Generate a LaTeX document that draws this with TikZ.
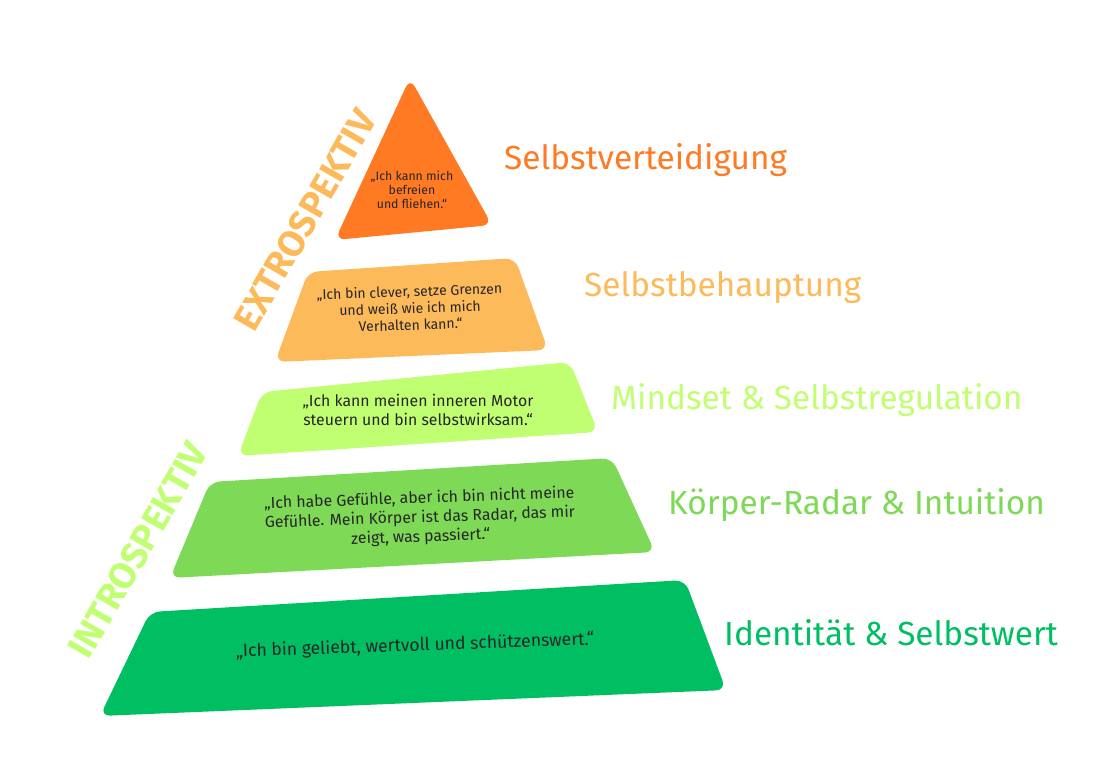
\documentclass[tikz,border=0pt]{standalone}
\usepackage{fontspec}
\setmainfont{Fira Sans}
\definecolor{orangeTop}{HTML}{FF7A22}
\definecolor{peach}{HTML}{FDBA5A}
\definecolor{lime}{HTML}{C1FF72}
\definecolor{midgreen}{HTML}{7ED957}
\definecolor{deepgreen}{HTML}{00BF63}
\tikzset{
  layer/.style={rounded corners=2mm},
  quote/.style={align=center, text=black!85, font=\small},
  title/.style={anchor=west, font=\fontsize{19}{19}\selectfont},
  side/.style={font=\fontsize{21}{21}\selectfont\bfseries}
}
\begin{document}
\begin{tikzpicture}[x=0.02cm,y=-0.02cm]
  \useasboundingbox (0,0) rectangle (1100,770);
  % pyramid layers
  \fill[layer, orangeTop] (410,78) -- (492,225) -- (335,240) -- cycle;
  \fill[layer, peach] (308,272) -- (515,258) -- (548,350) -- (275,362) -- cycle;
  \fill[layer, lime] (262,392) -- (570,362) -- (598,432) -- (238,456) -- cycle;
  \fill[layer, midgreen] (210,482) -- (612,458) -- (655,552) -- (170,578) -- cycle;
  \fill[layer, deepgreen] (150,612) -- (685,580) -- (726,690) -- (100,716) -- cycle;
  % quotes
  \node[quote, font=\scriptsize] (q1) at (412,190) {„Ich kann mich\\befreien\\und fliehen.“};
  \node[quote, font=\footnotesize, rotate=2] (q2) at (410,308) {„Ich bin clever, setze Grenzen\\und weiß wie ich mich\\Verhalten kann.“};
  \node[quote] (q3) at (418,410) {„Ich kann meinen inneren Motor\\steuern und bin selbstwirksam.“};
  \node[quote, rotate=2] (q4) at (420,518) {„Ich habe Gefühle, aber ich bin nicht meine\\Gefühle. Mein Körper ist das Radar, das mir\\zeigt, was passiert.“};
  \node[quote, font=\normalsize, rotate=2] (q5) at (415,646) {„Ich bin geliebt, wertvoll und schützenswert.“};
  % titles
  \node[title, text=orangeTop] (t1) at (498,160) {Selbstverteidigung};
  \node[title, text=peach] (t2) at (578,288) {Selbstbehauptung};
  \node[title, text=lime] (t3) at (605,400) {Mindset \& Selbstregulation};
  \node[title, text=midgreen] (t4) at (662,505) {Körper-Radar \& Intuition};
  \node[title, text=deepgreen] (t5) at (718,633) {Identität \& Selbstwert};
  % side labels
  \node[side, text=peach, rotate=60] (ex) at (305,220) {EXTROSPEKTIV};
  \node[side, text=lime, rotate=60] (in) at (138,550) {INTROSPEKTIV};
\end{tikzpicture}
\end{document}
